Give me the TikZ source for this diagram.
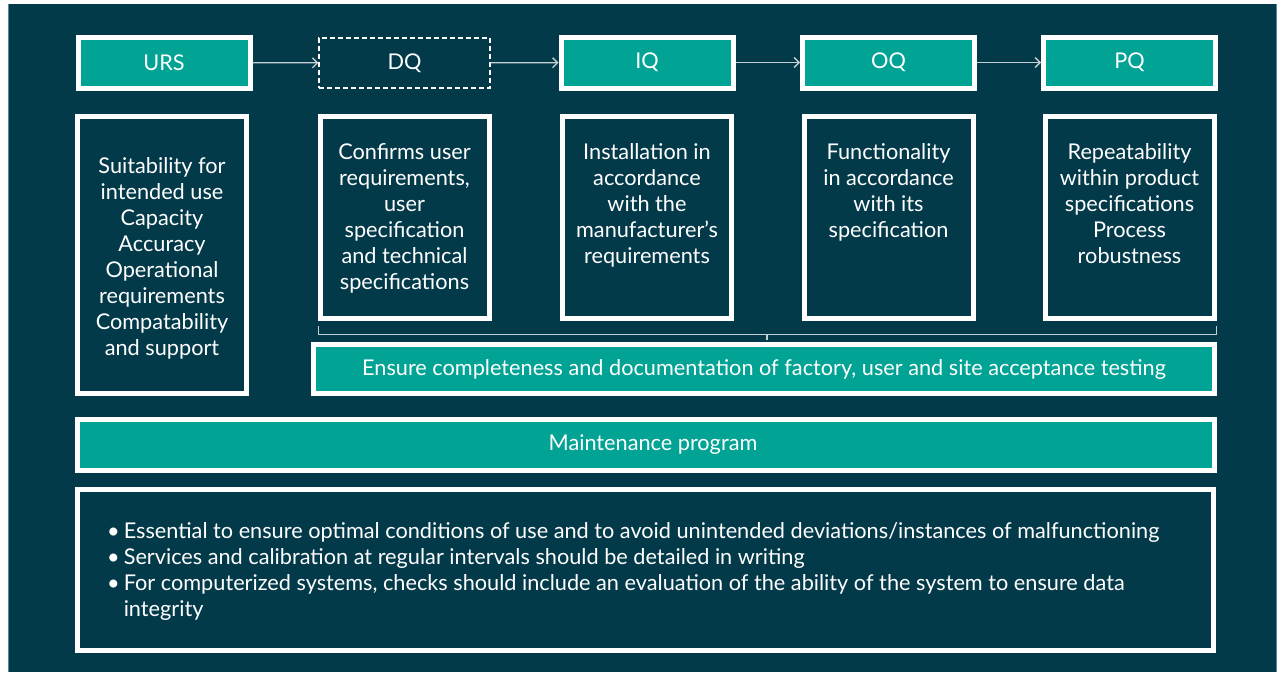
\documentclass[tikz,border=0pt]{standalone}
\usepackage{fontspec}
\setmainfont{Lato}
\usetikzlibrary{arrows.meta,positioning,calc}
\definecolor{qdark}{HTML}{033A4A}
\definecolor{qteal}{HTML}{00A394}
\definecolor{qedge}{HTML}{4E8E99}
\definecolor{qrule}{HTML}{C5CFD3}

\begin{document}
\begin{tikzpicture}[x=1pt, y=-1pt,
		basic/.style   = {draw=white, line width=5pt, rectangle, inner sep=0pt, text=white, align=center, font=\fontsize{21.7}{26}\selectfont},
		stage/.style   = {basic, fill=qteal, minimum width=172pt, minimum height=51pt},
		design/.style  = {basic, line width=1.3pt, dashed, dash pattern=on 5pt off 3pt, minimum width=171pt, minimum height=50pt},
		desc/.style    = {basic, minimum width=169pt, minimum height=202pt},
		desctext/.style= {text=white, align=center, inner sep=0pt, font=\fontsize{21.7}{26}\selectfont},
		band/.style    = {basic, fill=qteal, minimum height=49pt},
		flow/.style    = {draw=qrule, line width=1.3pt, ->},
		bracket/.style = {draw=qrule, line width=1.3pt},
		>={Straight Barb[length=5pt, width=10pt, line width=1.3pt]}]

		% page and dark panel
		\fill[white] (0,0) rectangle (1281,672);
		\useasboundingbox (0,0) rectangle (1281,672);
		\fill[qdark] (8,4) rectangle (1277,672);
		\draw[qedge, line width=1.5pt] (8.5,4) -- (8.5,672);
		\draw[qedge, line width=1.5pt] (1276.5,4) -- (1276.5,672);

		% the qualification stages
		\node[stage]  (urs) at (164,62.5)   {URS};
		\node[design] (dq)  at (404.5,63)   {DQ};
		\node[stage]  (iq)  at (647,62.5)   {IQ};
		\node[stage]  (oq)  at (888.5,62.5) {OQ};
		\node[stage]  (pq)  at (1129.5,62.5) {PQ};

		\foreach \from/\to in {urs/dq, dq/iq, iq/oq, oq/pq}
		\draw[flow] (\from) -- (\to);

		% what each stage covers
		\node[desc, minimum height=277pt, below=23.5pt of urs, xshift=-2pt] (ursd) {};
		\node[desc, below=25.5pt of dq] (dqd) {};
		\node[desc, below=23.5pt of iq] (iqd) {};
		\node[desc, below=23.5pt of oq] (oqd) {};
		\node[desc, below=23.5pt of pq] (pqd) {};

		\node[desctext, below=43.5pt of ursd.north] (urst) {Suitability for\\ intended use\\ Capacity\\ Accuracy\\ Operational\\ requirements\\ Compatability\\ and support};
		\node[desctext, below=29.5pt of dqd.north] (dqt) {Confirms user\\ requirements,\\ user\\ specification\\ and technical\\ specifications};
		\node[desctext, below=29.5pt of iqd.north] (iqt) {Installation in\\ accordance\\ with the\\ manufacturer’s\\ requirements};
		\node[desctext, below=29.5pt of oqd.north] (oqt) {Functionality\\ in accordance\\ with its\\ specification};
		\node[desctext, below=29.5pt of pqd.north] (pqt) {Repeatability\\ within product\\ specifications\\ Process\\ robustness};

		% acceptance testing, grouped under DQ to PQ
		\node[band, minimum width=901pt] (acc) at (764,369)
			{Ensure completeness and documentation of factory, user and site acceptance testing};
		\draw[bracket] ($(dqd.south west)+(1,5)$) -- ++(0,8) -| ($(pqd.south east)+(0,5)$);
		\draw[bracket] ($(acc.north)+(3,-2)$) -- ++(0,-6);

		% maintenance
		\node[band, minimum width=1137pt, minimum height=51pt] (maint) at (646,445)
			{\hspace{14pt}Maintenance program};
		\node[basic, minimum width=1136pt, minimum height=161pt] (notes) at (645.5,570) {};
		\node[desctext, align=left, anchor=north west] (notest) at (107,522)
			{\textbullet\hspace{4pt}Essential to ensure optimal conditions of use and to avoid unintended deviations/instances of malfunctioning\\
			 \textbullet\hspace{4pt}Services and calibration at regular intervals should be detailed in writing\\
			 \textbullet\hspace{4pt}For computerized systems, checks should include an evaluation of the ability of the system to ensure data\\
			 \phantom{\textbullet}\hspace{4pt}integrity};

	\end{tikzpicture}
\end{document}
